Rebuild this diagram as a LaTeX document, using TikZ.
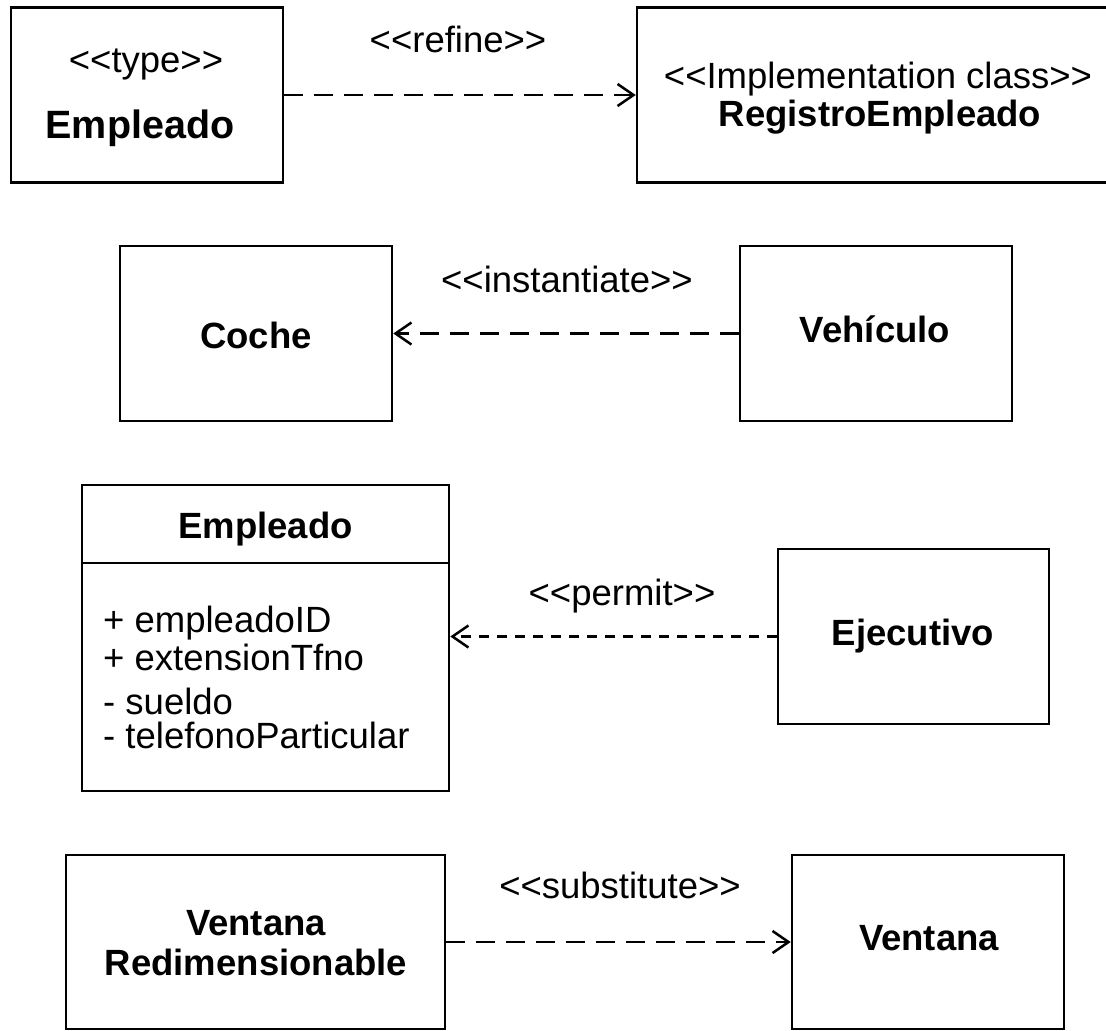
\documentclass[tikz,border=0pt]{standalone}
\usepackage{fontspec}
\setmainfont{Liberation Sans}
\usetikzlibrary{arrows.meta}
\newcommand\lgl{<{}<}
\newcommand\rgl{>{}>}
\begin{document}
\begin{tikzpicture}[x=1pt,y=-1pt,
  box/.style={draw=black, line width=2.5pt, rectangle, inner sep=0pt},
  txt/.style={anchor=base, inner sep=0pt, font=\fontsize{36.5}{42}\selectfont},
  btxt/.style={anchor=base, inner sep=0pt, font=\fontsize{36.5}{42}\selectfont\bfseries},
  atxt/.style={anchor=base west, inner sep=0pt, font=\fontsize{36.5}{42}\selectfont},
  dep/.style={line width=2.5pt, dash pattern=on 19pt off 11pt, -{Straight Barb[length=16pt,width=22pt]}},
]
\useasboundingbox (0,0) rectangle (1106,1031);
\fill[white] (0,0) rectangle (1106,1031);

% boxes
\node[box, minimum width=272pt, minimum height=175pt] (b1) at (147,95) {};
\node[box, minimum width=482pt, minimum height=175pt] (b2) at (878,95) {};
\node[box, minimum width=272pt, minimum height=175pt] (b3) at (256,333.5) {};
\node[box, minimum width=272pt, minimum height=175pt] (b4) at (876,333.5) {};
\node[box, minimum width=367pt, minimum height=306pt] (b5) at (265.5,638) {};
\node[box, minimum width=271pt, minimum height=175pt] (b6) at (913.5,636.5) {};
\node[box, minimum width=379pt, minimum height=174pt] (b7) at (255.5,942) {};
\node[box, minimum width=272pt, minimum height=174pt] (b8) at (928,942) {};
\draw[line width=2.5pt] ([yshift=-79pt]b5.north west) -- ([yshift=-79pt]b5.north east);

% texts
\node[txt]  (t1a) at (146,72)  {\lgl type\rgl};
\node[btxt, font=\fontsize{39.5}{45}\selectfont\bfseries] (t1b) at (140,138) {Empleado};
\node[txt]  (t2a) at (878,88)  {\lgl Implementation class\rgl};
\node[btxt] (t2b) at (880,126) {RegistroEmpleado};
\node[btxt] (t3)  at (256,348) {Coche};
\node[btxt] (t4)  at (875,342) {Vehículo};
\node[btxt] (t5)  at (265.5,538) {Empleado};
\node[atxt] (a1)  at (103,632) {+ empleadoID};
\node[atxt] (a2)  at (103,670) {+ extensionTfno};
\node[atxt] (a3)  at (103,714) {- sueldo};
\node[atxt] (a4)  at (103,748) {- telefonoParticular};
\node[btxt] (t6)  at (913,645) {Ejecutivo};
\node[btxt] (t7a) at (256,935) {Ventana};
\node[btxt] (t7b) at (256,975) {Redimensionable};
\node[btxt] (t8)  at (929,950) {Ventana};

% connector labels
\node[txt] (l1) at (458,52)  {\lgl refine\rgl};
\node[txt] (l2) at (567,292) {\lgl instantiate\rgl};
\node[txt] (l3) at (622,605) {\lgl permit\rgl};
\node[txt] (l4) at (620,898) {\lgl substitute\rgl};

% connectors
\draw[dep] (b1.east) -- (b2.west);
\draw[dep] (b4.west) -- (b3.east);
\draw[dep, dash pattern=on 10pt off 8pt] (b6.west) -- (b6.west -| b5.east);
\draw[dep] (b7.east) -- (b7.east -| b8.west);
\end{tikzpicture}
\end{document}
